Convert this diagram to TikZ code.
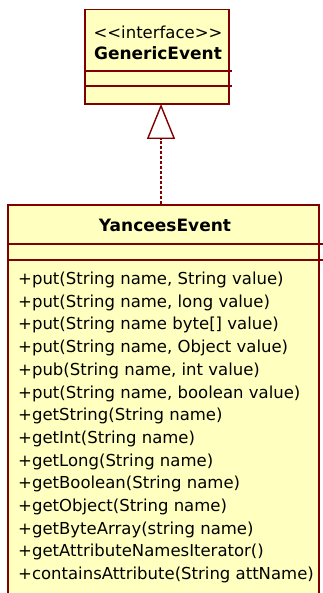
\documentclass[tikz,border=0pt]{standalone}
\usepackage{fontspec}
\setmainfont{DejaVu Sans}
\usetikzlibrary{arrows.meta}
\definecolor{umlfill}{RGB}{255,255,192}
\definecolor{umlline}{RGB}{128,0,0}
\begin{document}
\begin{tikzpicture}[x=1pt,y=-1pt,
  classbox/.style={draw=umlline,fill=umlfill,line width=1.6pt,inner sep=0pt},
  sepline/.style={draw=umlline,line width=1.1pt},
  member/.style={anchor=west,inner sep=0pt,font=\fontsize{16.5}{20}\selectfont},
  title/.style={inner sep=0pt,font=\fontsize{17}{20}\selectfont\bfseries},
  realize/.style={draw=umlline,line width=1.4pt,densely dashed,
    -{Triangle[open,length=35pt,width=28pt,line width=1.4pt,fill=white]}}]
\clip (0,0) rectangle (323,593);
\fill[white] (0,0) rectangle (323,593);

% interface GenericEvent
\node[classbox,minimum width=144pt,minimum height=94.5pt] (generic) at (157,56.75) {};
\node[inner sep=0pt,font=\fontsize{16.5}{20}\selectfont] (stereo) at (158,32) {<{}<interface>{}>};
\node[title] (gname) at (158,53) {GenericEvent};
\draw[sepline] (85,71) -- (232,71);
\draw[sepline] (85,86) -- (232,86);

% class YanceesEvent
\node[classbox,minimum width=311pt,minimum height=400pt] (yancees) at (163.5,405) {};
\node[title] (yname) at (165,225) {YanceesEvent};
\draw[sepline] (8,244) -- (323,244);
\draw[sepline] (8,260) -- (323,260);

\foreach \t [count=\i from 0] in {
  {+put(String name, String value)},
  {+put(String name, long value)},
  {+put(String name byte[] value)},
  {+put(String name, Object value)},
  {+pub(String name, int value)},
  {+put(String name, boolean value)},
  {+getString(String name)},
  {+getInt(String name)},
  {+getLong(String name)},
  {+getBoolean(String name)},
  {+getObject(String name)},
  {+getByteArray(string name)},
  {+getAttributeNamesIterator()},
  {+containsAttribute(String attName)}}
  \node[member] (m\i) at (18,{280+\i*22.7}) {\t};

% realization arrow
\coordinate (gbottom) at (161,104);
\draw[realize] (yancees.north -| gbottom) -- (gbottom);
\end{tikzpicture}
\end{document}
